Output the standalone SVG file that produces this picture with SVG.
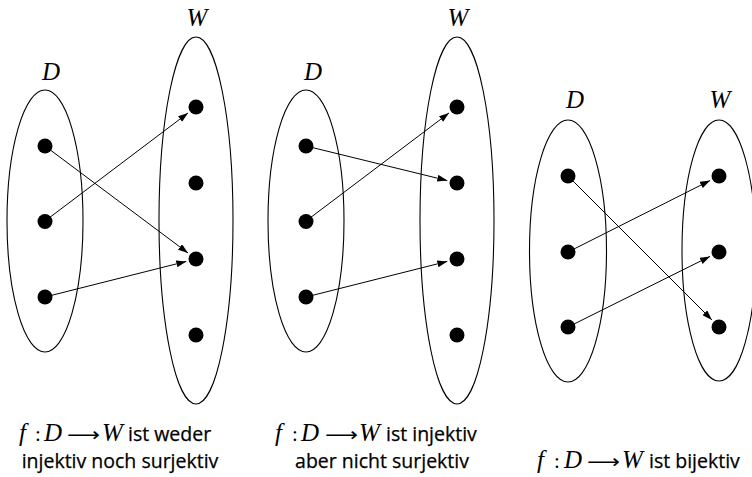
<svg xmlns="http://www.w3.org/2000/svg" width="752" height="477" viewBox="0 0 752 477">
<defs>
<marker id="ah" markerWidth="10" markerHeight="7" refX="10" refY="3.5" orient="auto" markerUnits="userSpaceOnUse">
<path d="M0,0 L10,3.5 L0,7 z" fill="#000"/>
</marker>
<style>
.set{fill:none;stroke:#000;stroke-width:1.1}
.dot{fill:#000}
.lbl{font-family:"Liberation Serif","DejaVu Serif",serif;font-style:italic;font-size:25px;text-anchor:middle;fill:#000}
.m{font-family:"Liberation Serif","DejaVu Serif",serif;font-style:italic;font-size:25px}
.c{font-family:"Liberation Serif","DejaVu Serif",serif;font-style:normal;font-size:21px}
.ar{font-family:"DejaVu Sans",sans-serif;font-style:normal;font-size:19px}
.t{font-family:"Open Sans","Noto Sans",sans-serif;font-size:19.5px;fill:#000;stroke:#000;stroke-width:0.25}
.t tspan.m,.t tspan.c,.t tspan.ar{stroke:none}
.conn line{stroke:#000;stroke-width:1;marker-end:url(#ah)}
</style>
</defs>
<rect width="752" height="477" fill="#fff"/>

<!-- Diagram 1 -->
<g id="d1-D">
<ellipse class="set" cx="45" cy="221" rx="38" ry="131"/>
<text class="lbl" x="51" y="80">D</text>
</g>
<g id="d1-W">
<ellipse class="set" cx="196" cy="220.5" rx="37" ry="183.5"/>
<text class="lbl" x="197" y="26">W</text>
</g>
<g id="d1-conn" class="conn">
<line x1="45" y1="146" x2="188" y2="253"/>
<line x1="45" y1="221" x2="188" y2="113"/>
<line x1="45" y1="297" x2="186.3" y2="261.4"/>
</g>
<g id="d1-dots">
<circle class="dot" cx="45" cy="146" r="7.5"/>
<circle class="dot" cx="45" cy="221.5" r="7.5"/>
<circle class="dot" cx="45" cy="297" r="7.5"/>
<circle class="dot" cx="196" cy="107" r="7.5"/>
<circle class="dot" cx="196" cy="183" r="7.5"/>
<circle class="dot" cx="196" cy="259" r="7.5"/>
<circle class="dot" cx="196" cy="335" r="7.5"/>
</g>

<!-- Diagram 2 -->
<g id="d2-D">
<ellipse class="set" cx="306" cy="221" rx="38" ry="131"/>
<text class="lbl" x="313" y="80">D</text>
</g>
<g id="d2-W">
<ellipse class="set" cx="457" cy="220.5" rx="37" ry="183.5"/>
<text class="lbl" x="458" y="26">W</text>
</g>
<g id="d2-conn" class="conn">
<line x1="306" y1="146" x2="447.3" y2="180.6"/>
<line x1="306" y1="221" x2="449" y2="113"/>
<line x1="306" y1="297" x2="447.3" y2="261.4"/>
</g>
<g id="d2-dots">
<circle class="dot" cx="306" cy="146" r="7.5"/>
<circle class="dot" cx="306" cy="221.5" r="7.5"/>
<circle class="dot" cx="306" cy="297" r="7.5"/>
<circle class="dot" cx="457" cy="107" r="7.5"/>
<circle class="dot" cx="457" cy="183" r="7.5"/>
<circle class="dot" cx="457" cy="259" r="7.5"/>
<circle class="dot" cx="457" cy="335" r="7.5"/>
</g>

<!-- Diagram 3 -->
<g id="d3-D">
<ellipse class="set" cx="568" cy="251" rx="38.5" ry="131"/>
<text class="lbl" x="575" y="108">D</text>
</g>
<g id="d3-W">
<ellipse class="set" cx="719" cy="250.5" rx="37" ry="130.5"/>
<text class="lbl" x="720" y="108">W</text>
</g>
<g id="d3-conn" class="conn">
<line x1="568" y1="176" x2="711.9" y2="319.9"/>
<line x1="568" y1="252" x2="710.1" y2="180.5"/>
<line x1="568" y1="327" x2="710" y2="256.4"/>
</g>
<g id="d3-dots">
<circle class="dot" cx="568" cy="176" r="7.5"/>
<circle class="dot" cx="568" cy="252" r="7.5"/>
<circle class="dot" cx="568" cy="327" r="7.5"/>
<circle class="dot" cx="719" cy="176" r="7.5"/>
<circle class="dot" cx="719" cy="252" r="7.5"/>
<circle class="dot" cx="719" cy="327" r="7.5"/>
</g>

<!-- Captions -->
<g id="cap1">
<text class="t" y="441"><tspan class="m" x="19">f</tspan><tspan class="c" x="35">:</tspan><tspan class="m" x="44">D</tspan><tspan class="ar" x="67" textLength="33" lengthAdjust="spacingAndGlyphs">⟶</tspan><tspan class="m" x="102">W</tspan><tspan x="128">ist weder</tspan></text>
<text class="t" x="120" y="468" text-anchor="middle">injektiv noch surjektiv</text>
</g>
<g id="cap2">
<text class="t" y="441"><tspan class="m" x="275">f</tspan><tspan class="c" x="292">:</tspan><tspan class="m" x="301">D</tspan><tspan class="ar" x="325" textLength="33" lengthAdjust="spacingAndGlyphs">⟶</tspan><tspan class="m" x="359">W</tspan><tspan x="386">ist injektiv</tspan></text>
<text class="t" x="382" y="468" text-anchor="middle">aber nicht surjektiv</text>
</g>
<g id="cap3">
<text class="t" y="468"><tspan class="m" x="537">f</tspan><tspan class="c" x="554">:</tspan><tspan class="m" x="564">D</tspan><tspan class="ar" x="587" textLength="33" lengthAdjust="spacingAndGlyphs">⟶</tspan><tspan class="m" x="622">W</tspan><tspan x="649">ist bijektiv</tspan></text>
</g>
</svg>
